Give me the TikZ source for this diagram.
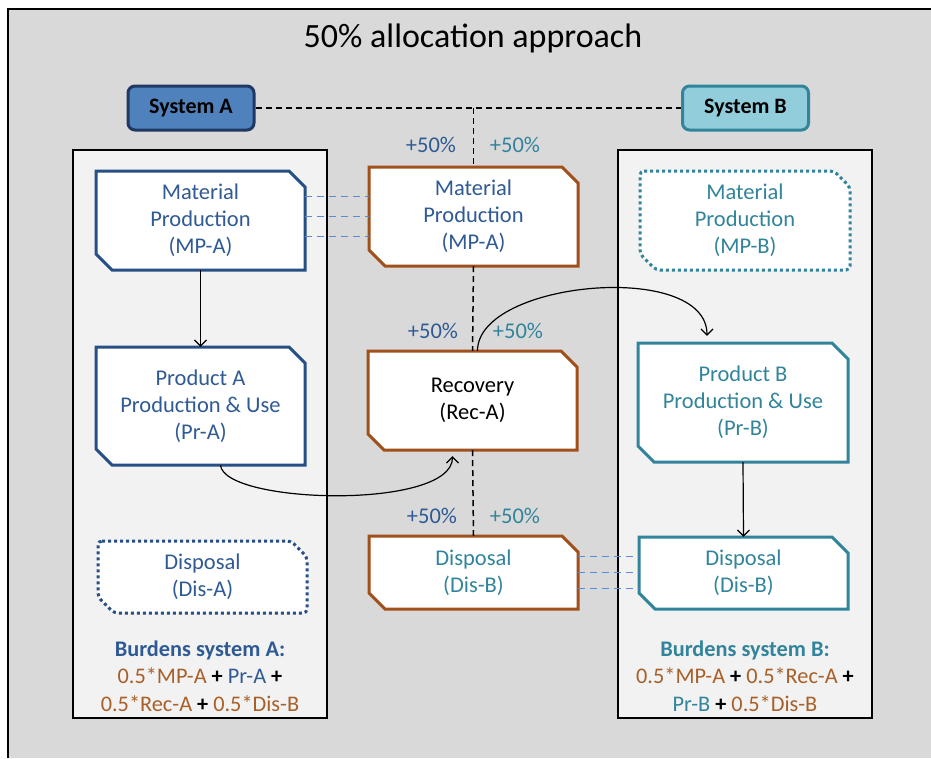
\documentclass[tikz,border=0pt]{standalone}
\usepackage{fontspec}
\setmainfont{Carlito}
\usetikzlibrary{arrows.meta,calc}
\definecolor{bgray}{HTML}{D9D9D9}
\definecolor{lgray}{HTML}{F2F2F2}
\definecolor{navy}{HTML}{1F3864}
\definecolor{blueA}{HTML}{4F81BD}
\definecolor{bordA}{HTML}{264F86}
\definecolor{txtA}{HTML}{2F5A94}
\definecolor{tealB}{HTML}{31849B}
\definecolor{fillB}{HTML}{92CDDC}
\definecolor{orng}{HTML}{A0501A}
\definecolor{burd}{HTML}{A85F28}
\definecolor{ldash}{HTML}{5B8BD0}
\tikzset{
 cb/.style={line width=3pt, fill=white},
 cbA/.style={cb, draw=bordA},
 cbB/.style={cb, draw=tealB},
 cbC/.style={cb, draw=orng},
 dotA/.style={cbA, dash pattern=on 3pt off 3pt, rounded corners=4pt},
 dotB/.style={cbB, dash pattern=on 3pt off 3pt, rounded corners=4pt},
 btext/.style={align=center, font=\fontsize{22.5}{27}\selectfont, inner sep=0pt},
 arr/.style={line width=1.2pt, -{Straight Barb[length=6pt,width=12pt]}},
 kdash/.style={line width=1.5pt, dash pattern=on 6pt off 4pt},
 bdash/.style={draw=ldash, line width=1.5pt, dash pattern=on 7pt off 5pt},
 pct/.style={font=\fontsize{22.5}{25}\selectfont, inner sep=0pt},
 sysbox/.style={draw=black, line width=1.3pt, fill=lgray, inner sep=0pt},
 syslab/.style={rounded corners=7pt, line width=3pt, font=\fontsize{22}{25}\selectfont\bfseries, minimum width=126pt, minimum height=44pt, inner sep=0pt},
 burden/.style={align=center, font=\fontsize{22.3}{27.5}\selectfont, inner sep=0pt}
}
\newcommand\cbox[8]{%
 \draw[#6] (#2,#3) -- (#4-16,#3) -- (#4,#3+16) -- (#4,#5) -- (#2+16,#5) -- (#2,#5-16) -- cycle;
 \node[btext, text=#7, minimum width={(#4-#2)*1pt}, minimum height={(#5-#3)*1pt}] (#1) at ({(#2+#4)/2},{(#3+#5)/2}) {#8};}
\begin{document}
\begin{tikzpicture}[x=1pt,y=-1pt]
\useasboundingbox (0,0) rectangle (931,758);
\fill[white] (0,0) rectangle (931,758);
\fill[bgray] (8,9) rectangle (931,758);
\draw[line width=2pt] (8,758) -- (8,9) -- (931,9);

\node[font=\fontsize{34}{38}\selectfont] (title) at (473,38) {50\% allocation approach};

\node[sysbox, minimum width=254pt, minimum height=568pt] (sysboxA) at (200,434) {};
\node[sysbox, minimum width=254pt, minimum height=568pt] (sysboxB) at (745,434) {};

\node[syslab, fill=blueA, draw=navy] (sysA) at (191,108) {System A};
\node[syslab, fill=fillB, draw=tealB] (sysB) at (745.5,108) {System B};

\cbox{mpa}{96}{171}{305}{270}{cbA}{txtA}{Material\\Production\\(MP-A)}
\cbox{pra}{96}{347}{305}{465}{cbA}{txtA}{Product A\\Production \& Use\\(Pr-A)}
\cbox{disa}{98}{541}{307}{613}{dotA}{txtA}{Disposal\\(Dis-A)}
\cbox{mpc}{369}{167}{578}{266}{cbC}{txtA}{Material\\Production\\(MP-A)}
\cbox{rec}{368}{351}{577}{450}{cbC}{black}{Recovery\\(Rec-A)}
\cbox{disc}{369}{536}{578}{609}{cbC}{tealB}{Disposal\\(Dis-B)}
\cbox{mpb}{640}{171}{850}{270}{dotB}{tealB}{Material\\Production\\(MP-B)}
\cbox{prb}{638}{343}{848}{462}{cbB}{tealB}{Product B\\Production \& Use\\(Pr-B)}
\cbox{disb}{639}{537}{848}{609}{cbB}{tealB}{Disposal\\(Dis-B)}

% black dashed system links
\draw[kdash] (sysA.east) -- (sysB.west);
\coordinate (jn) at (sysA.east -| mpc.north);
\draw[kdash] (jn) -- (mpc.north);
\draw[kdash] (mpc.south) -- (rec.north);
\draw[kdash] (rec.south) -- (disc.north);

% percentages
\node[pct, text=txtA] (p1l) at (431,145) {+50\%};
\node[pct, text=tealB] (p1r) at (515,145) {+50\%};
\node[pct, text=txtA] (p2l) at (433,331) {+50\%};
\node[pct, text=tealB] (p2r) at (518,331) {+50\%};
\node[pct, text=txtA] (p3l) at (432,516) {+50\%};
\node[pct, text=tealB] (p3r) at (515,516) {+50\%};

% blue dashed links
\foreach \d in {-20,0,20}
  \draw[bdash] ([yshift=\d pt]mpc.west -| mpa.east) -- ([yshift=\d pt]mpc.west);
\foreach \d in {-16,0,16}
  \draw[bdash] ([yshift=\d pt]disc.east) -- ([yshift=\d pt]disc.east -| disb.west);

% arrows
\draw[arr] (mpa.south) -- (pra.north);
\draw[arr] (prb.south) -- (disb.north);
\draw[arr] ([xshift=5pt]rec.north) .. controls +(0,-70) and +(0,-76) .. ([xshift=-36pt,yshift=7pt]prb.north);
\draw[arr] ([xshift=20pt]pra.south) .. controls +(4,39) and +(0,54) .. ([xshift=-20pt,yshift=-6pt]rec.south);

% burdens
\node[burden] (burdA) at (200,676) {{\bfseries\color{txtA}Burdens system A:}\\
{\color{burd}0.5*MP-A} \textbf{+} {\color{txtA}Pr-A} \textbf{+}\\
{\color{burd}0.5*Rec-A} \textbf{+} {\color{burd}0.5*Dis-B}};
\node[burden] (burdB) at (745,676) {{\bfseries\color{tealB}Burdens system B:}\\
{\color{burd}0.5*MP-A} \textbf{+} {\color{burd}0.5*Rec-A} \textbf{+}\\
{\color{tealB}Pr-B} \textbf{+} {\color{burd}0.5*Dis-B}};
\end{tikzpicture}
\end{document}
